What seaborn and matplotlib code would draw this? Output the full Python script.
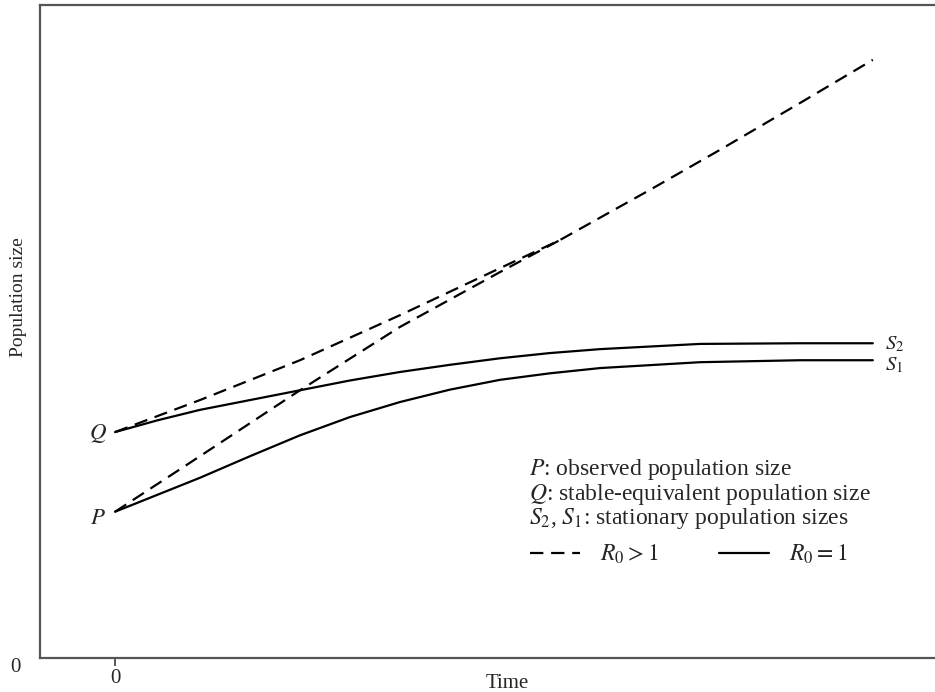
import matplotlib
matplotlib.use("Agg")
import matplotlib.pyplot as plt
import numpy as np
import pandas as pd
import seaborn as sns
from matplotlib.lines import Line2D

# values (arbitrary units: time 0-100, population 0-100)
t_q_growth = [0, 11.2, 24.4, 37.6, 50.8, 58.7, 70.6, 79.8, 90.4, 100]
pop_q_growth = [34.6, 39.5, 45.6, 52.5, 59.7, 64.0, 71.7, 77.8, 85.0, 91.6]

t_p_growth = [0, 11.2, 24.4, 37.6, 50.8, 58.7]
pop_p_growth = [22.4, 30.9, 41.0, 50.7, 59.1, 64.0]

t_stat = [0, 5.6, 11.2, 17.8, 24.4, 31.0, 37.6, 44.2, 50.8, 57.4, 64.0, 77.2, 90.4, 100]
pop_s2 = [34.6, 36.4, 38.0, 39.5, 41.0, 42.5, 43.8, 44.9, 45.9, 46.7, 47.3, 48.1, 48.2, 48.2]
pop_s1 = [22.4, 25.0, 27.6, 30.9, 34.1, 36.9, 39.2, 41.1, 42.6, 43.6, 44.4, 45.3, 45.6, 45.6]

sns.set_theme(style="white")
plt.rcParams['font.family'] = ['Liberation Serif', 'DejaVu Serif']
plt.rcParams['mathtext.fontset'] = 'stix'

fig = plt.figure(figsize=(9.35, 6.92), dpi=100)
ax = fig.add_axes([0.0428, 0.0491, 0.9572, 0.9437])

dash = (0, (6, 3.5))
lw = 1.6
sns.lineplot(x=t_q_growth, y=pop_q_growth, ax=ax, color='black', lw=lw,
             sort=False, estimator=None, linestyle=dash)
sns.lineplot(x=t_p_growth, y=pop_p_growth, ax=ax, color='black', lw=lw,
             sort=False, estimator=None, linestyle=dash)
sns.lineplot(x=t_stat, y=pop_s2, ax=ax, color='black', lw=lw,
             sort=False, estimator=None)
sns.lineplot(x=t_stat, y=pop_s1, ax=ax, color='black', lw=lw,
             sort=False, estimator=None)

ax.set_xlim(-9.9, 108.2)
ax.set_ylim(0, 100)

for side in ['left', 'bottom', 'top']:
    ax.spines[side].set_color('#555555')
    ax.spines[side].set_linewidth(1.6)
ax.spines['right'].set_visible(False)

fs = 17
ax.set_xticks([0])
ax.set_xticklabels(['0'])
ax.set_yticks([0])
ax.set_yticklabels(['0'])
ax.tick_params(axis='x', direction='out', length=6, width=1.4, color='#555555',
               labelsize=15, pad=2, bottom=True)
ax.tick_params(axis='y', length=0, labelsize=15, pad=14)
for lab in ax.get_yticklabels():
    lab.set_va('top')
ax.set_xlabel('Time', fontsize=15, va='center')
ax.set_ylabel('Population size', fontsize=14, va='center')
ax.xaxis.set_label_coords(0.522, -0.039)
ax.yaxis.set_label_coords(-0.024, 0.553)

ax.text(-2.2, 34.4, '$Q$', fontsize=16.5, ha='center', va='center')
ax.text(-2.2, 21.3, '$P$', fontsize=16.5, ha='center', va='center')
ax.text(101.6, 48.0, '$S_2$', fontsize=15, ha='left', va='center')
ax.text(101.6, 44.8, '$S_1$', fontsize=15, ha='left', va='center')

ax.text(54.6, 28.8, '$P$: observed population size', fontsize=fs, va='center')
ax.text(54.6, 25.1, '$Q$: stable-equivalent population size', fontsize=fs, va='center')
ax.text(54.6, 21.3, '$S_2$, $S_1$: stationary population sizes', fontsize=fs, va='center')

handles = [Line2D([], [], color='black', lw=lw, linestyle=dash),
           Line2D([], [], color='black', lw=lw)]
ax.legend(handles, ['$R_0 > 1$', '$R_0 = 1$'], ncol=2, frameon=False,
          fontsize=fs, handlelength=2.1, handletextpad=0.85, columnspacing=2.6,
          borderpad=0, borderaxespad=0,
          loc='center left', bbox_to_anchor=(0.5475, 0.158))

fig.savefig('out.png', dpi=100)
